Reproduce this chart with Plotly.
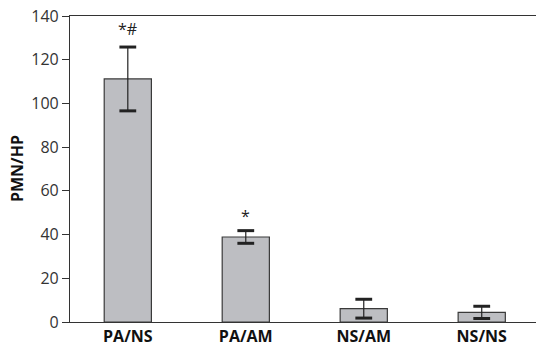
import plotly.graph_objects as go

categories = ["PA/NS", "PA/AM", "NS/AM", "NS/NS"]
values = [111.2, 38.9, 6.1, 4.4]
errors = [14.6, 2.9, 4.3, 2.8]
labels = ["*#", "*", "", ""]
label_y = [134, 48.5, None, None]
y_ticks = [0, 20, 40, 60, 80, 100, 120, 140]

fig = go.Figure()
fig.add_trace(go.Bar(
    x=categories, y=values, width=0.4,
    marker=dict(color="#bdbec2", line=dict(color="#3a3a3a", width=1.2)),
    error_y=dict(type="data", array=errors, visible=True, color="#222222", thickness=1.2, width=0),
    showlegend=False,
))
# caps
cap_x = categories + categories
cap_y = [v + e for v, e in zip(values, errors)] + [v - e for v, e in zip(values, errors)]
fig.add_trace(go.Scatter(
    x=cap_x, y=cap_y, mode="markers",
    marker=dict(symbol="line-ew", size=12, line=dict(color="#222222", width=3)),
    showlegend=False, hoverinfo="skip",
))
for c, t, yy in zip(categories, labels, label_y):
    if t:
        fig.add_annotation(x=c, y=yy, text=t, showarrow=False,
                           font=dict(family="Open Sans, sans-serif", size=16, color="#222222"))

fig.add_annotation(xref="paper", yref="paper", x=-0.1137, y=0.5, text="<b>PMN/HP</b>",
                   textangle=-90, showarrow=False, xanchor="center", yanchor="middle",
                   font=dict(family="Open Sans, sans-serif", size=16, color="#111111"))

fig.update_layout(
    width=536, height=351,
    margin=dict(l=70, r=0, t=16, b=29),
    plot_bgcolor="white", paper_bgcolor="white",
    font=dict(family="Open Sans, sans-serif", color="#333333"),
)
fig.update_xaxes(
    range=[-0.49, 3.46], showline=True, linecolor="#333333", linewidth=1.2, mirror=True,
    ticks="", tickmode="array", tickvals=categories,
    ticktext=["<b>" + c + "</b>" for c in categories],
    tickfont=dict(size=16, color="#111111", family="Open Sans, sans-serif"),
    showgrid=False,
)
fig.update_yaxes(
    range=[0, 140], tickvals=y_ticks, showline=True, linecolor="#333333", linewidth=1.2,
    ticks="outside", ticklen=7, tickcolor="#333333", tickfont=dict(size=16, color="#333333"),
    showgrid=False, zeroline=False,
)
fig.write_html("out.html", config={"displayModeBar": False},
               post_script="document.body.style.margin='0';document.body.style.overflow='hidden';")
